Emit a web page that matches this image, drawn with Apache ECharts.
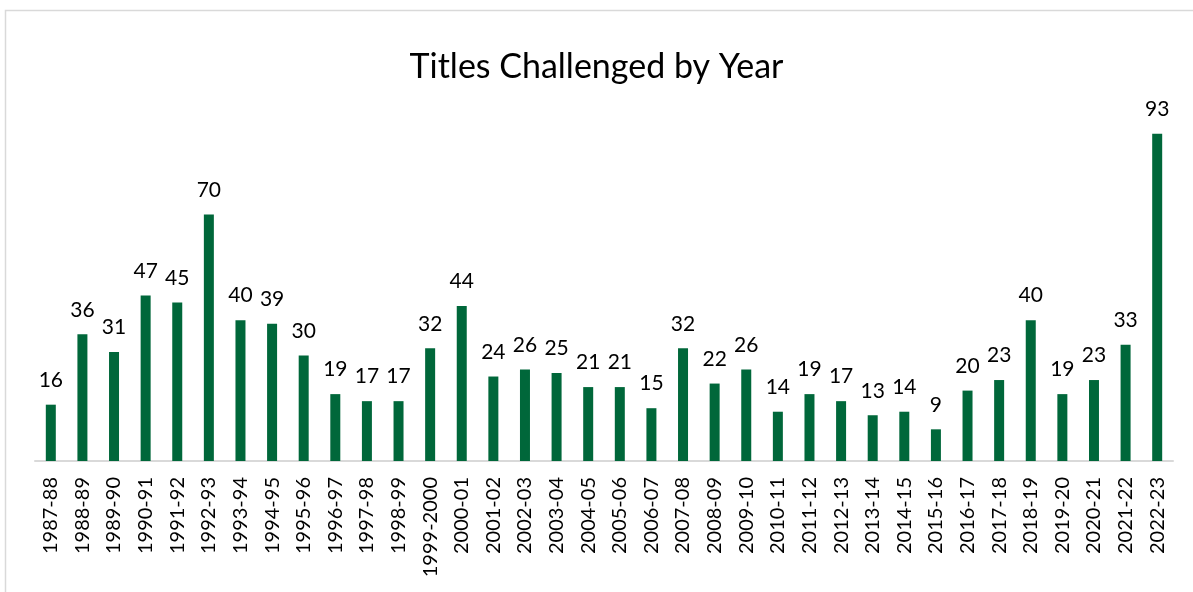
<!DOCTYPE html>
<html>
<head>
<meta charset="utf-8">
<script src="https://cdn.jsdelivr.net/npm/echarts@6/dist/echarts.min.js"></script>
<style>
html,body{margin:0;padding:0;background:#fff;}
#chart{width:1193px;height:592px;}
</style>
</head>
<body>
<div id="chart"></div>
<script>
const categories = ["1987-88","1988-89","1989-90","1990-91","1991-92","1992-93","1993-94","1994-95","1995-96","1996-97","1997-98","1998-99","1999-2000","2000-01","2001-02","2002-03","2003-04","2004-05","2005-06","2006-07","2007-08","2008-09","2009-10","2010-11","2011-12","2012-13","2013-14","2014-15","2015-16","2016-17","2017-18","2018-19","2019-20","2020-21","2021-22","2022-23"];
const titlesChallenged = [16,36,31,47,45,70,40,39,30,19,17,17,32,44,24,26,25,21,21,15,32,22,26,14,19,17,13,14,9,20,23,40,19,23,33,93];
const chartTitle = "Titles Challenged by Year";

const FONT = "Lato, 'Open Sans', sans-serif";
const chart = echarts.init(document.getElementById('chart'), null, {renderer:'canvas'});
chart.setOption({
  animation:false,
  backgroundColor:'#fff',
  title:{
    text: chartTitle,
    left:'center', top:45,
    textStyle:{fontFamily:FONT, fontSize:34, fontWeight:'normal', color:'#000'}
  },
  grid:{left:35, right:20, top:109, bottom:131, containLabel:false},
  xAxis:{
    type:'category',
    data:categories,
    axisLine:{show:true, lineStyle:{color:'#d9d9d9', width:2}},
    axisTick:{show:false},
    axisLabel:{rotate:90, interval:0, margin:16, fontFamily:FONT, fontSize:20, color:'#000'}
  },
  yAxis:{
    type:'value', min:0, max:100,
    show:false,
    splitLine:{show:false}
  },
  series:[{
    type:'bar',
    data:titlesChallenged,
    barWidth:10,
    itemStyle:{color:'#00673A'},
    label:{show:true, position:'top', distance:14, fontFamily:FONT, fontSize:21, color:'#000'}
  }],
  graphic:[{
    type:'polyline',
    shape:{points:[[5.5,592],[5.5,10.5],[1193,10.5]]},
    style:{stroke:'#d9d9d9', lineWidth:1.5, fill:null}
  }]
});
</script>
</body>
</html>
